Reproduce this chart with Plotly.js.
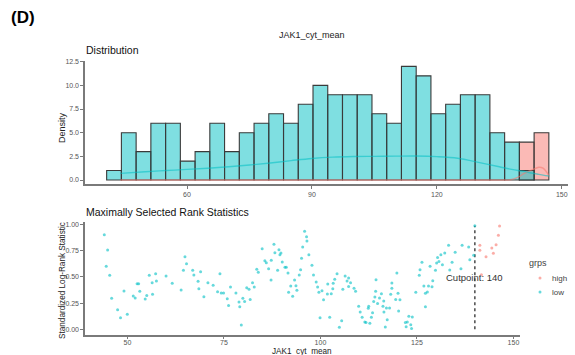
<!DOCTYPE html>
<html>
<head>
<meta charset="utf-8">
<script src="https://cdn.plot.ly/plotly-3.0.1.min.js"></script>
<style>html,body{margin:0;padding:0;background:#fff;}#chart{width:575px;height:355px;}</style>
</head>
<body>
<div id="chart"></div>
<script>
// ---- Histogram data (counts per bin) ----
const binStart = 40.7;
const binWidth = 3.54;
const lowCounts  = [1,5,3,6,6,2,3,6,3,5,6,7,6,8,10,9,9,9,7,6,12,11,7,8,9,9,5,4,1,0];
const highCounts = [0,0,0,0,0,0,0,0,0,0,0,0,0,0,0,0,0,0,0,0,0,0,0,0,0,0,0,0,4,5];

// ---- Density curves ----
const densX    = [44,50,55,60,65,70,75,80,85,90,95,100,105,110,115,120,125,130,135,138,139.5,141,143,144.5,145.5,147];
const densLow  = [0.70,0.88,1.00,1.12,1.25,1.40,1.58,1.80,2.05,2.28,2.42,2.48,2.50,2.52,2.53,2.47,2.30,1.87,1.40,1.12,1.00,0.90,0.72,0.60,0.52,0.42];
const densHigh = [0,0,0,0,0,0,0,0,0,0,0,0,0,0,0,0,0,0,0,0.05,0.30,0.70,1.10,1.35,1.25,0.40];

// ---- Maximally selected rank statistics ----
const lowX = [44.0,44.5,44.86,45.4,45.9,47.45,48.2,49.1,49.96,51.5,52.0,52.5,52.9,53.2,54.6,55.0,55.65,56.4,56.5,57.3,57.5,60.0,61.6,63.9,64.5,64.9,65.3,66.9,67.2,68.3,68.5,68.95,69.8,70.85,72.2,73.35,73.96,74.3,74.9,75.86,76.2,76.7,78.1,78.9,79.1,79.5,79.9,80.35,80.9,81.5,81.8,82.4,82.85,83.5,83.9,84.9,85.6,85.97,86.57,87.2,87.26,87.95,88.2,88.9,89.25,89.5,89.77,90.1,90.8,91.15,91.6,91.75,92.3,92.8,93.3,93.65,93.9,94.5,94.86,95.1,95.4,95.9,96.4,96.5,97.0,97.8,98.2,98.9,99.27,99.6,99.9,100.4,100.8,101.8,101.9,102.4,102.8,103.2,103.3,103.7,104.3,104.9,105.5,105.8,106.4,106.9,107.3,107.3,107.8,108.7,109.1,109.9,110.3,110.8,111.5,111.8,112.4,112.5,112.8,113.2,113.5,113.8,114.1,114.3,114.4,114.8,115.3,115.8,116.2,116.4,116.45,116.8,117.1,117.3,117.9,118.2,118.5,118.5,119.5,119.8,120.1,120.25,120.6,122.0,122.2,122.5,122.9,123.4,123.6,123.8,124.7,125.6,125.8,126.3,126.8,127.2,127.2,127.7,128.0,128.4,128.9,129.1,129.8,130.1,130.35,130.7,131.2,131.6,132.2,133.2,133.5,134.1,134.9,136.4,136.7,138.4,138.7,139.7,140.0];
const lowY = [0.90,0.60,0.755,0.514,0.295,0.187,0.111,0.365,0.143,0.317,0.298,0.435,0.435,0.362,0.289,0.323,0.514,0.444,0.333,0.53,0.46,0.508,0.438,0.374,0.562,0.692,0.625,0.562,0.517,0.457,0.387,0.549,0.311,0.444,0.419,0.358,0.53,0.346,0.346,0.292,0.228,0.403,0.346,0.26,0.216,0.041,0.295,0.266,0.396,0.381,0.285,0.444,0.403,0.571,0.543,0.768,0.654,0.635,0.577,0.47,0.657,0.809,0.73,0.562,0.758,0.711,0.727,0.641,0.59,0.59,0.536,0.352,0.412,0.314,0.47,0.416,0.371,0.517,0.568,0.676,0.784,0.933,0.882,0.841,0.711,0.609,0.517,0.45,0.403,0.352,0.111,0.368,0.282,0.336,0.431,0.114,0.339,0.387,0.438,0.476,0.53,0.019,0.082,0.381,0.508,0.46,0.489,0.409,0.444,0.39,0.362,0.219,0.165,0.114,0.07,0.066,0.2,0.219,0.057,0.114,0.158,0.266,0.308,0.362,0.473,0.247,0.298,0.339,0.219,0.27,0.165,0.022,0.203,0.092,0.203,0.333,0.39,0.441,0.285,0.536,0.343,0.174,0.282,0.066,0.025,0.07,0.124,0.044,0.009,0.117,0.352,0.514,0.568,0.638,0.412,0.343,0.216,0.355,0.412,0.6,0.406,0.463,0.562,0.631,0.685,0.647,0.711,0.616,0.727,0.8,0.565,0.638,0.733,0.577,0.8,0.784,0.663,0.705,0.987];
const highX = [141.3,141.3,141.7,142.9,144.4,144.8,145.5,146.1,146.4];
const highY = [0.80,0.752,0.52,0.692,0.774,0.724,0.806,0.895,0.984];

const cutpoint = 140;
const cutStat = 0.987;
const groups = ['high','low'];
const topXTicks = [60,90,120,150];
const topYTicks = [0,2.5,5,7.5,10,12.5];
const botXTicks = [50,75,100,125,150];
const botYTicks = [0,0.25,0.5,0.75,1];

// ---- styles ----
const W = 575, H = 355;
const px = v => v / W, py = v => 1 - v / H;
const FONT = 'Arial, "Liberation Sans", sans-serif';
const axisCol = '#7a7a7a';
const groupCol = {high:'rgba(248,118,109,0.6)', low:'rgba(0,191,196,0.6)'};

function centers(counts){ return counts.map((c,i)=>binStart + binWidth*(i+0.5)); }
function nz(counts){ const xs=[],ys=[]; const cs=centers(counts); counts.forEach((c,i)=>{ if(c>0){xs.push(cs[i]);ys.push(c);} }); return [xs,ys]; }
const [lx, ly] = nz(lowCounts);
const [hx, hy] = nz(highCounts);

const traces = [
  {type:'bar', x: hx, y: hy, width: binWidth, xaxis:'x', yaxis:'y', showlegend:false,
   marker:{color:'rgba(248,118,109,0.5)', line:{color:'#3a3a3a', width:1.1}}, hoverinfo:'skip'},
  {type:'bar', x: lx, y: ly, width: binWidth, xaxis:'x', yaxis:'y', showlegend:false,
   marker:{color:'rgba(0,191,196,0.5)', line:{color:'#3a3a3a', width:1.1}}, hoverinfo:'skip'},
  {type:'scatter', mode:'lines', x: densX, y: densHigh, xaxis:'x', yaxis:'y', showlegend:false,
   line:{color:'rgba(248,118,109,0.55)', width:1.4, shape:'spline'}, hoverinfo:'skip'},
  {type:'scatter', mode:'lines', x: densX, y: densLow, xaxis:'x', yaxis:'y', showlegend:false,
   line:{color:'rgba(0,191,196,0.55)', width:1.4, shape:'spline'}, hoverinfo:'skip'},
  {type:'scatter', mode:'lines', x:[cutpoint,cutpoint], y:[0,cutStat], xaxis:'x2', yaxis:'y2', showlegend:false,
   line:{color:'#555', width:1.6, dash:'dot'}, hoverinfo:'skip'},
  {type:'scatter', mode:'markers', name: groups[0], x: highX, y: highY, xaxis:'x2', yaxis:'y2', showlegend:false,
   marker:{color:groupCol.high, size:3}},
  {type:'scatter', mode:'markers', name: groups[1], x: lowX, y: lowY, xaxis:'x2', yaxis:'y2', showlegend:false,
   marker:{color:groupCol.low, size:3}}
];

function ax(extra){
  return Object.assign({showgrid:false, zeroline:false, showline:true, linecolor:axisCol, linewidth:1.6,
    ticks:'outside', ticklen:3, tickwidth:1, tickcolor:axisCol,
    tickfont:{family:FONT, size:7, color:'#555555'}, fixedrange:true, automargin:false}, extra);
}

const legendShapes = groups.map((g,i)=>({type:'circle', xref:'paper', yref:'paper',
  x0:px(538.5), x1:px(541.5), y0:py(279.5 + i*14), y1:py(276.5 + i*14),
  fillcolor:groupCol[g], line:{width:0}}));
const legendText = groups.map((g,i)=>({text:g, xref:'paper', yref:'paper', x:px(550), y:py(278 + i*14),
  xanchor:'left', yanchor:'middle', showarrow:false, font:{family:FONT, size:8, color:'#444'}}));

const layout = {
  width: W, height: H, autosize:false,
  margin:{l:0,r:0,t:0,b:0},
  paper_bgcolor:'#fff', plot_bgcolor:'#fff',
  barmode:'overlay',
  showlegend:false,
  xaxis: ax({domain:[px(85), px(568)], range:[35.5,151.5], anchor:'y',
    tickvals: topXTicks, ticktext: topXTicks.map(String)}),
  yaxis: ax({domain:[py(184), py(61)], range:[-0.42,12.57], anchor:'x',
    tickvals: topYTicks, ticktext: topYTicks.map(v=>v.toFixed(1))}),
  xaxis2: ax({domain:[px(85), px(520)], range:[39.0,151.7], anchor:'y2', ticklen:2, ticklabelstandoff:-2,
    tickvals: botXTicks, ticktext: botXTicks.map(String)}),
  yaxis2: ax({domain:[py(335), py(222)], range:[-0.054,1.022], anchor:'x2',
    tickvals: botYTicks, ticktext: botYTicks.map(v=>v.toFixed(2))}),
  shapes: legendShapes,
  annotations:[
    {text:'<b>(D)</b>', xref:'paper', yref:'paper', x:px(9), y:py(17), xanchor:'left', yanchor:'middle', showarrow:false,
     font:{family:FONT, size:17, color:'#000'}},
    {text:'JAK1_cyt_mean', xref:'paper', yref:'paper', x:px(312), y:py(35), xanchor:'center', yanchor:'middle', showarrow:false,
     font:{family:FONT, size:9, color:'#222'}},
    {text:'Distribution', xref:'paper', yref:'paper', x:px(84), y:py(50), xanchor:'left', yanchor:'middle', showarrow:false,
     font:{family:FONT, size:10.5, color:'#111'}},
    {text:'Maximally Selected Rank Statistics', xref:'paper', yref:'paper', x:px(84), y:py(212), xanchor:'left', yanchor:'middle', showarrow:false,
     font:{family:FONT, size:10.5, color:'#111'}},
    {text:'Density', xref:'paper', yref:'paper', x:px(62), y:py(128), xanchor:'center', yanchor:'middle', textangle:-90, showarrow:false,
     font:{family:FONT, size:9, color:'#222'}},
    {text:'Standardized Log-Rank Statistic', xref:'paper', yref:'paper', x:px(62), y:py(281), xanchor:'center', yanchor:'middle', textangle:-90, showarrow:false,
     font:{family:FONT, size:8.2, color:'#222'}},
    {text:'JAK1_cyt_mean', xref:'paper', yref:'paper', x:px(302), y:py(351), xanchor:'center', yanchor:'middle', showarrow:false,
     font:{family:FONT, size:8.2, color:'#222'}},
    {text:'Cutpoint: ' + cutpoint, xref:'x2', yref:'y2', x:cutpoint, y:0.49, xanchor:'center', yanchor:'middle', showarrow:false,
     font:{family:FONT, size:9.5, color:'#333'}},
    {text:'grps', xref:'paper', yref:'paper', x:px(527), y:py(263), xanchor:'left', yanchor:'middle', showarrow:false,
     font:{family:FONT, size:9, color:'#444'}}
  ].concat(legendText)
};

Plotly.newPlot('chart', traces, layout, {displayModeBar:false, staticPlot:true});
</script>
</body>
</html>
